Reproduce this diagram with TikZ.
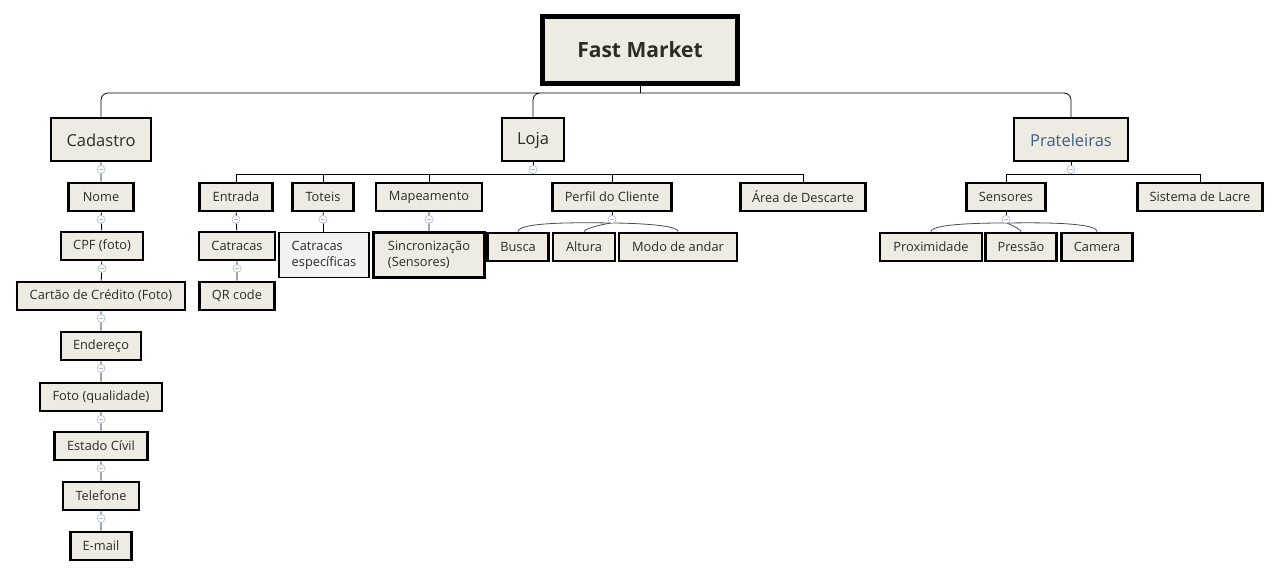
\documentclass[tikz,border=0pt]{standalone}
\usepackage{fontspec}
\setmainfont{Open Sans}
\definecolor{boxfill}{HTML}{EEEBE2}
\definecolor{boxtext}{HTML}{2E2A24}
\definecolor{pratblue}{HTML}{3F5E86}
\definecolor{togblue}{HTML}{A9B8D8}
\begin{document}
\begin{tikzpicture}[x=1pt,y=-1pt,
  every node/.style={draw,fill=boxfill,text=boxtext,inner sep=0pt,align=center},
  main/.style={line width=2pt,minimum height=43pt,font=\fontsize{16.5}{18}\selectfont},
  leaf/.style={line width=2.8pt,minimum height=28pt,font=\fontsize{12.8}{16}\selectfont},
  tall/.style={leaf,minimum height=45pt,align=left},
  tog/.style={circle,draw=togblue,fill=white,line width=.6pt,minimum size=8pt,
    path picture={\draw[togblue,line width=.6pt] ([xshift=-2pt]path picture bounding box.center)--([xshift=2pt]path picture bounding box.center);}}]
\useasboundingbox (0,0) rectangle (1280,577);
% raiz
\node[line width=4.5pt,minimum width=195pt,minimum height=67pt,font=\fontsize{21}{24}\selectfont\bfseries] (fm) at (640,50) {Fast Market};
\node[main,minimum width=100pt] (cad) at (101,140) {Cadastro};
\node[main,minimum width=62pt] (loja) at (533,140) {Loja};
\node[main,minimum width=114pt,text=pratblue] (prat) at (1071,140) {Prateleiras};
% cadastro
\node[leaf,minimum width=65pt] (nome) at (101,197) {Nome};
\node[leaf,minimum width=82pt] (cpf) at (102,246) {CPF (foto)};
\node[leaf,minimum width=168pt] (cart) at (101,296) {Cartão de Crédito (Foto)};
\node[leaf,minimum width=80pt] (ender) at (101,346) {Endereço};
\node[leaf,minimum width=122pt] (foto) at (101,397) {Foto (qualidade)};
\node[leaf,minimum width=93pt] (est) at (101,446) {Estado Cívil};
\node[leaf,minimum width=76pt] (tel) at (101,496) {Telefone};
\node[leaf,minimum width=61pt] (mail) at (101,546) {E-mail};
% loja
\node[leaf,minimum width=73pt] (ent) at (236,197) {Entrada};
\node[leaf,minimum width=61pt] (tot) at (323,197) {Toteis};
\node[leaf,minimum width=106pt] (map) at (429,197) {Mapeamento};
\node[leaf,minimum width=119pt] (perf) at (612,197) {Perfil do Cliente};
\node[leaf,minimum width=125pt] (area) at (803,197) {Área de Descarte};
\node[leaf,minimum width=76pt] (cat) at (237,246) {Catracas};
\node[leaf,minimum width=75pt] (qr) at (237,296) {QR code};
\node[tall,line width=1.2pt,fill=black!5,minimum width=90pt] (cesp) at (324,255) {Catracas\\específicas};
\node[tall,minimum width=111pt] (sinc) at (429,255) {Sincronização\\(Sensores)};
\node[leaf,minimum width=61pt] (busca) at (518,247) {Busca};
\node[leaf,minimum width=62pt] (alt) at (584,247) {Altura};
\node[leaf,minimum width=118pt] (modo) at (678,247) {Modo de andar};
% prateleiras
\node[leaf,minimum width=79pt] (sens) at (1006,197) {Sensores};
\node[leaf,minimum width=125pt] (lacre) at (1200,197) {Sistema de Lacre};
\node[leaf,minimum width=102pt] (prox) at (931,247) {Proximidade};
\node[leaf,minimum width=71pt] (pres) at (1021,247) {Pressão};
\node[leaf,minimum width=71pt] (cam) at (1097,247) {Camera};
% ligacoes
\coordinate (hub) at (640,93);
\coordinate (lb) at (533,174);
\coordinate (pb) at (1071,174);
\coordinate (pj) at (612,223);
\coordinate (sj) at (1006,223);
\begin{scope}[line width=.8pt]
\draw (fm.south)--(hub);
\draw[rounded corners=7pt] (hub)-|(cad.north) (hub)-|(loja.north) (hub)-|(prat.north);
\draw (cad)--(nome)--(cpf)--(cart)--(ender)--(foto)--(est)--(tel)--(mail);
\draw (loja.south)--(lb) (prat.south)--(pb);
\foreach \n in {ent,tot,map,perf,area} \draw (lb)-|(\n.north);
\foreach \n in {sens,lacre} \draw (pb)-|(\n.north);
\draw (ent)--(cat)--(qr) (tot)--(cesp) (map)--(sinc);
\draw (perf.south)--(pj) (sens.south)--(sj);
\draw[black!70] (pj) to[out=180,in=90,looseness=.3] (busca.north);
\draw[black!70] (pj) to[out=180,in=90,looseness=.3] (alt.north);
\draw[black!70] (pj) to[out=0,in=90,looseness=.3] (modo.north);
\draw[black!70] (sj) to[out=180,in=90,looseness=.3] (prox.north);
\draw[black!70] (sj) to[out=0,in=90,looseness=.3] (pres.north);
\draw[black!70] (sj) to[out=0,in=90,looseness=.3] (cam.north);
\end{scope}
% botoes
\foreach \n in {cad,nome,cpf,cart,ender,foto,est,tel,loja,prat,ent,cat,tot,map,perf,sens}
  \node[tog] at ([yshift=-7pt]\n.south) {};
\end{tikzpicture}
\end{document}
